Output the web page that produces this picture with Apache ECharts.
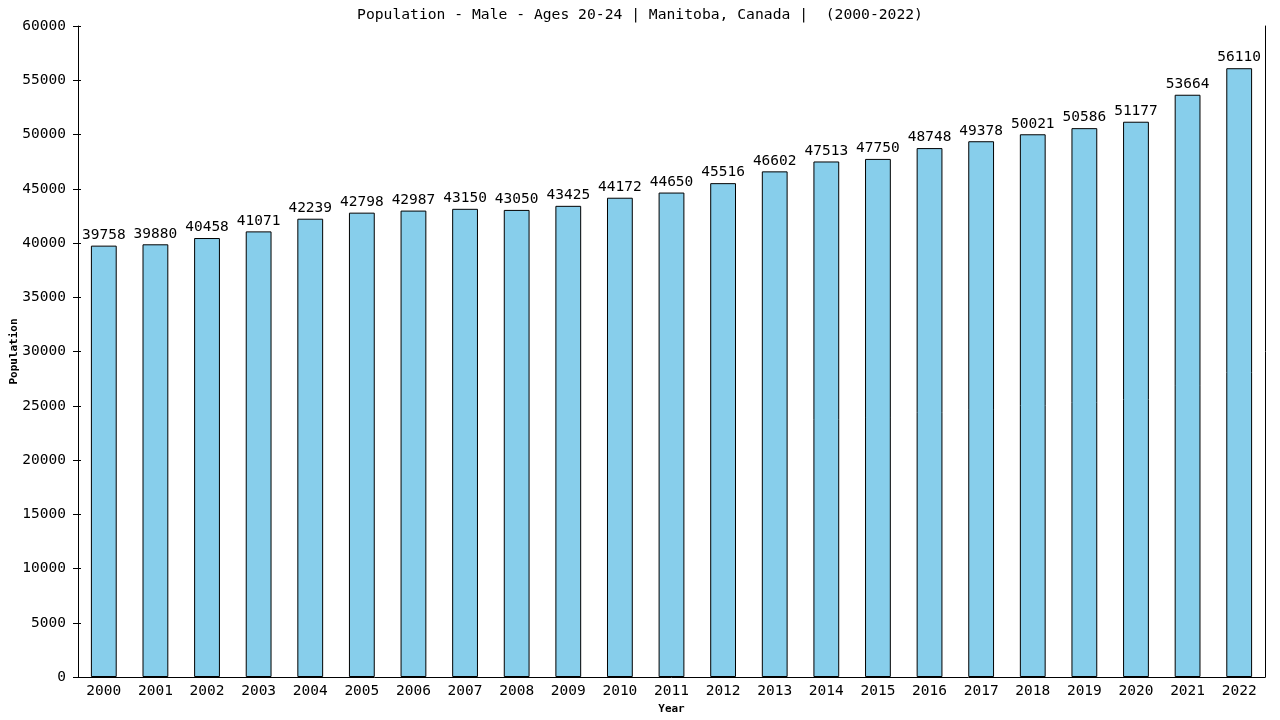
<!DOCTYPE html>
<html><head><meta charset="utf-8">
<script src="https://cdn.jsdelivr.net/npm/echarts@6/dist/echarts.min.js"></script>
<style>html,body{margin:0;padding:0;background:#fff}#c{width:1280px;height:720px}</style>
</head><body><div id="c"></div>
<script>
const years = ['2000','2001','2002','2003','2004','2005','2006','2007','2008','2009','2010','2011','2012','2013','2014','2015','2016','2017','2018','2019','2020','2021','2022'];
const population = [39758,39880,40458,41071,42239,42798,42987,43150,43050,43425,44172,44650,45516,46602,47513,47750,48748,49378,50021,50586,51177,53664,56110];
const titleText = 'Population - Male - Ages 20-24 | Manitoba, Canada |  (2000-2022)';
const font = '"DejaVu Sans Mono", monospace';
const chart = echarts.init(document.getElementById('c'));
chart.setOption({
  animation: false,
  backgroundColor: '#fff',
  title: {text: titleText, left: 'center', top: 3, textStyle: {fontFamily: font, fontSize: 14.7, fontWeight: 'normal', color: '#000'}},
  grid: {left: 78, right: 15, top: 26, bottom: 43, containLabel: false, outerBoundsMode: 'none'},
  xAxis: {
    type: 'category', data: years, name: 'Year', nameLocation: 'middle', nameGap: 27, nameMoveOverlap: false,
    nameTextStyle: {fontFamily: font, fontSize: 11, fontWeight: 'bold', color: '#000'},
    axisLine: {lineStyle: {color: '#000', width: 1}}, axisTick: {show: false},
    axisLabel: {fontFamily: font, fontSize: 14.5, color: '#000', margin: 7}
  },
  yAxis: [{
    type: 'value', min: 0, max: 60000, interval: 5000, name: 'Population', nameLocation: 'middle', nameGap: 58, nameMoveOverlap: false,
    nameTextStyle: {fontFamily: font, fontSize: 11, fontWeight: 'bold', color: '#000'},
    axisLine: {show: true, lineStyle: {color: '#000', width: 1}},
    axisTick: {show: true, length: 5, lineStyle: {color: '#000'}},
    axisLabel: {fontFamily: font, fontSize: 14.5, color: '#000', margin: 12, formatter: v => String(v)},
    splitLine: {show: false}
  }, {
    type: 'value', min: 0, max: 60000, interval: 5000, position: 'right',
    axisLine: {show: true, lineStyle: {color: '#000', width: 1}},
    axisTick: {show: false}, axisLabel: {show: false}, splitLine: {show: false}
  }, {
    type: 'value', min: 0, max: 60000, interval: 5000, position: 'left',
    axisLine: {show: false},
    axisTick: {show: true, inside: true, length: 3, lineStyle: {color: '#000'}},
    axisLabel: {show: false}, splitLine: {show: false}
  }],
  series: [{
    type: 'bar', data: population, barWidth: '50%',
    itemStyle: {color: '#87CEEB', borderColor: '#000', borderWidth: 1},
    label: {show: true, position: 'top', distance: 3, fontFamily: font, fontSize: 14.5, color: '#000'}
  }]
});
</script></body></html>
